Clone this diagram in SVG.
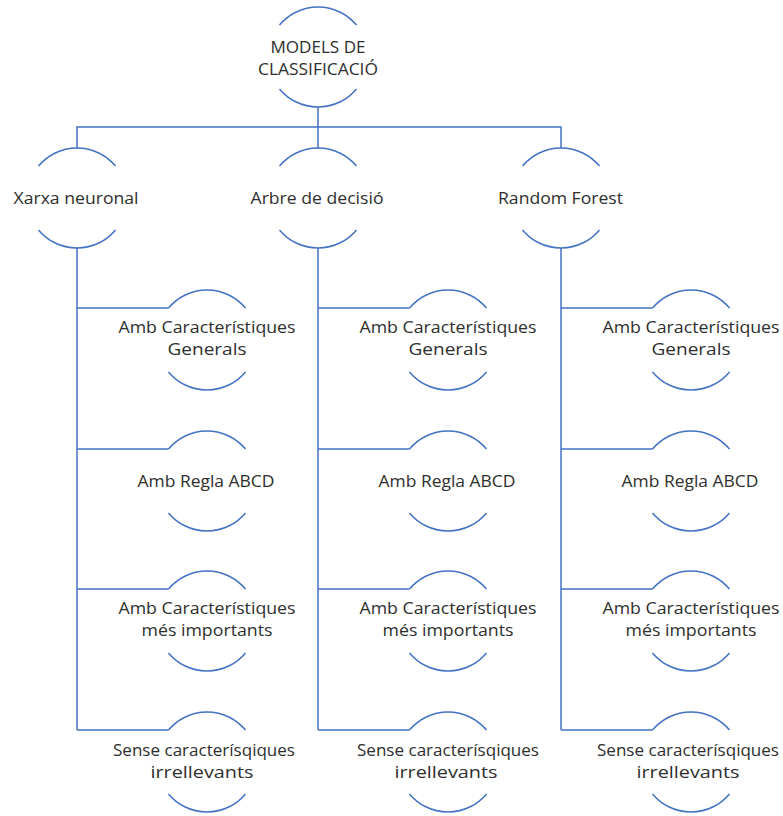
<svg xmlns="http://www.w3.org/2000/svg" width="783" height="816" viewBox="0 0 783 816">
  <style>
    .arc { fill: none; stroke: #4472C4; stroke-width: 1.5; }
    .link { fill: none; stroke: #4472C4; stroke-width: 1.5; }
    text { font-family: "Open Sans", "Liberation Sans", sans-serif; font-size: 16px; fill: #2e2e2e; text-anchor: middle; }
  </style>
  <defs>
    <!-- open circle: top and bottom arcs of a r=50 circle, sides left free for the label -->
    <g id="ring">
      <path class="arc" d="M -38.5 -31.9 A 50 50 0 0 1 38.5 -31.9"/>
      <path class="arc" d="M -38.5 31.9 A 50 50 0 0 0 38.5 31.9"/>
    </g>
  </defs>
  <rect width="783" height="816" fill="#ffffff"/>

  <!-- connectors -->
  <g id="connectors">
    <path class="link" d="M 318 107 V 127 M 77 148 V 127 H 561 V 148 M 318 127 V 148"/>
    <!-- column 1 -->
    <path class="link" d="M 77 248 V 730 M 77 308 H 168.5 M 77 449 H 168.5 M 77 589 H 168.5 M 77 730 H 168.5"/>
    <!-- column 2 -->
    <path class="link" d="M 318 248 V 730 M 318 308 H 409.5 M 318 449 H 409.5 M 318 589 H 409.5 M 318 730 H 409.5"/>
    <!-- column 3 -->
    <path class="link" d="M 561 248 V 730 M 561 308 H 652.5 M 561 449 H 652.5 M 561 589 H 652.5 M 561 730 H 652.5"/>
  </g>

  <!-- root -->
  <g id="root" transform="translate(318 57)">
    <use href="#ring"/>
    <text x="0" y="-4.5" textLength="95" lengthAdjust="spacingAndGlyphs">MODELS DE</text>
    <text x="0" y="17.5" textLength="120" lengthAdjust="spacingAndGlyphs">CLASSIFICACIÓ</text>
  </g>

  <!-- level 2 -->
  <g id="xarxa" transform="translate(77 198)">
    <use href="#ring"/>
    <text x="-1" y="5.5" textLength="125" lengthAdjust="spacingAndGlyphs">Xarxa neuronal</text>
  </g>
  <g id="arbre" transform="translate(318 198)">
    <use href="#ring"/>
    <text x="-1" y="5.5" textLength="133" lengthAdjust="spacingAndGlyphs">Arbre de decisió</text>
  </g>
  <g id="random-forest" transform="translate(561 198)">
    <use href="#ring"/>
    <text x="-0.5" y="5.5" textLength="125" lengthAdjust="spacingAndGlyphs">Random Forest</text>
  </g>

  <!-- column 1 leaves -->
  <g id="xarxa-generals" transform="translate(207 340)">
    <use href="#ring"/>
    <text x="0" y="-7" textLength="177" lengthAdjust="spacingAndGlyphs">Amb Característiques</text>
    <text x="0" y="15" textLength="79" lengthAdjust="spacingAndGlyphs">Generals</text>
  </g>
  <g id="xarxa-abcd" transform="translate(207 481)">
    <use href="#ring"/>
    <text x="-1" y="5.5" textLength="137" lengthAdjust="spacingAndGlyphs">Amb Regla ABCD</text>
  </g>
  <g id="xarxa-importants" transform="translate(207 621)">
    <use href="#ring"/>
    <text x="0" y="-7" textLength="177" lengthAdjust="spacingAndGlyphs">Amb Característiques</text>
    <text x="0" y="15" textLength="131" lengthAdjust="spacingAndGlyphs">més importants</text>
  </g>
  <g id="xarxa-sense" transform="translate(207 762)">
    <use href="#ring"/>
    <text x="-3" y="-6.5" textLength="182" lengthAdjust="spacingAndGlyphs">Sense caracterísqiques</text>
    <text x="-5" y="15.5" textLength="103" lengthAdjust="spacingAndGlyphs">irrellevants</text>
  </g>

  <!-- column 2 leaves -->
  <g id="arbre-generals" transform="translate(448 340)">
    <use href="#ring"/>
    <text x="0" y="-7" textLength="177" lengthAdjust="spacingAndGlyphs">Amb Característiques</text>
    <text x="0" y="15" textLength="79" lengthAdjust="spacingAndGlyphs">Generals</text>
  </g>
  <g id="arbre-abcd" transform="translate(448 481)">
    <use href="#ring"/>
    <text x="-1" y="5.5" textLength="137" lengthAdjust="spacingAndGlyphs">Amb Regla ABCD</text>
  </g>
  <g id="arbre-importants" transform="translate(448 621)">
    <use href="#ring"/>
    <text x="0" y="-7" textLength="177" lengthAdjust="spacingAndGlyphs">Amb Característiques</text>
    <text x="0" y="15" textLength="131" lengthAdjust="spacingAndGlyphs">més importants</text>
  </g>
  <g id="arbre-sense" transform="translate(448 762)">
    <use href="#ring"/>
    <text x="0" y="-6.5" textLength="182" lengthAdjust="spacingAndGlyphs">Sense caracterísqiques</text>
    <text x="-2" y="15.5" textLength="103" lengthAdjust="spacingAndGlyphs">irrellevants</text>
  </g>

  <!-- column 3 leaves -->
  <g id="rf-generals" transform="translate(691 340)">
    <use href="#ring"/>
    <text x="0" y="-7" textLength="177" lengthAdjust="spacingAndGlyphs">Amb Característiques</text>
    <text x="0" y="15" textLength="79" lengthAdjust="spacingAndGlyphs">Generals</text>
  </g>
  <g id="rf-abcd" transform="translate(691 481)">
    <use href="#ring"/>
    <text x="-1" y="5.5" textLength="137" lengthAdjust="spacingAndGlyphs">Amb Regla ABCD</text>
  </g>
  <g id="rf-importants" transform="translate(691 621)">
    <use href="#ring"/>
    <text x="0" y="-7" textLength="177" lengthAdjust="spacingAndGlyphs">Amb Característiques</text>
    <text x="0" y="15" textLength="131" lengthAdjust="spacingAndGlyphs">més importants</text>
  </g>
  <g id="rf-sense" transform="translate(691 762)">
    <use href="#ring"/>
    <text x="-3" y="-6.5" textLength="182" lengthAdjust="spacingAndGlyphs">Sense caracterísqiques</text>
    <text x="-3" y="15.5" textLength="103" lengthAdjust="spacingAndGlyphs">irrellevants</text>
  </g>
</svg>
